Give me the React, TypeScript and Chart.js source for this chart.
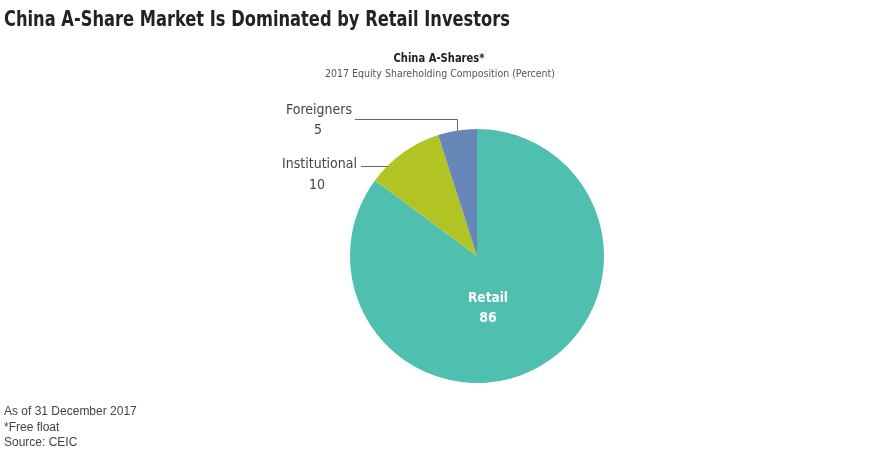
import React, { useEffect, useRef } from "react";
import { Chart, registerables } from "chart.js";

Chart.register(...registerables);

const categories = ["Retail", "Institutional", "Foreigners"];
const values = [86, 10, 5];
const colors = ["#4FBFAF", "#B2C424", "#6887B9"];
const mainTitle = "China A-Share Market Is Dominated by Retail Investors";
const chartTitle = "China A-Shares*";
const chartSubtitle = "2017 Equity Shareholding Composition (Percent)";
const footnotes = ["As of 31 December 2017", "*Free float", "Source: CEIC"];

const FONT = "'DejaVu Sans Condensed', 'DejaVu Sans', sans-serif";
const NOTE_FONT = "'Liberation Sans', Arial, sans-serif";

const textPlugin = {
  id: "texts",
  afterDraw(chart: any) {
    const ctx = chart.ctx as CanvasRenderingContext2D;
    const area = chart.chartArea;
    const cx = (area.left + area.right) / 2;
    const cy = (area.top + area.bottom) / 2;
    const r = Math.min(area.right - area.left, area.bottom - area.top) / 2;
    ctx.save();
    // main title
    ctx.fillStyle = "#222";
    ctx.textBaseline = "alphabetic";
    ctx.textAlign = "left";
    ctx.font = `bold 21px ${FONT}`;
    ctx.fillText(mainTitle, 4, 26, 506);
    // chart title/subtitle
    ctx.textAlign = "center";
    ctx.font = `bold 13px ${FONT}`;
    ctx.fillStyle = "#222";
    ctx.fillText(chartTitle, 439, 62, 91);
    ctx.font = `11px ${FONT}`;
    ctx.fillStyle = "#555";
    ctx.fillText(chartSubtitle, 440, 77, 230);
    // footnotes
    ctx.textAlign = "left";
    ctx.font = `12px ${NOTE_FONT}`;
    ctx.fillStyle = "#444";
    footnotes.forEach((t, i) => ctx.fillText(t, 4, 415 + i * 15.5, 134 - (i === 0 ? 0 : 0)));

    // arcs
    const meta = chart.getDatasetMeta(0);
    // Foreigners callout (index 2)
    const fArc = meta.data[2];
    const fMid = (fArc.startAngle + fArc.endAngle) / 2;
    const fx = cx + Math.cos(fMid) * r;
    const fy = cy + Math.sin(fMid) * r;
    ctx.strokeStyle = "#666";
    ctx.lineWidth = 1;
    ctx.beginPath();
    ctx.moveTo(355, 119.5);
    ctx.lineTo(Math.round(fx) + 0.5, 119.5);
    ctx.lineTo(Math.round(fx) + 0.5, fy);
    ctx.stroke();
    // Institutional callout
    const iy = 166.5;
    const ix = cx - Math.sqrt(r * r - (cy - iy) * (cy - iy));
    ctx.beginPath();
    ctx.moveTo(361, iy);
    ctx.lineTo(ix + 1, iy);
    ctx.stroke();

    ctx.font = `14px ${FONT}`;
    ctx.fillStyle = "#444";
    ctx.textAlign = "right";
    ctx.fillText(categories[2], 352, 114);
    ctx.fillText(categories[1], 357, 168, 79);
    ctx.textAlign = "center";
    ctx.fillText(String(values[2]), 318, 134);
    ctx.fillText(String(values[1]), 317, 189);

    // Retail label
    ctx.font = `bold 14px ${FONT}`;
    ctx.fillStyle = "#fff";
    ctx.fillText(categories[0], 488, 302, 40);
    ctx.fillText(String(values[0]), 488, 322);
    ctx.restore();
  },
};

export default function App() {
  const ref = useRef<HTMLCanvasElement>(null);
  useEffect(() => {
    document.body.style.margin = "0";
    const chart = new Chart(ref.current!, {
      type: "pie",
      data: {
        labels: categories,
        datasets: [
          {
            data: values,
            backgroundColor: colors,
            borderWidth: 0,
          },
        ],
      },
      options: {
        animation: false,
        responsive: false,
        layout: { padding: { top: 129, bottom: 67, left: 350, right: 276 } },
        plugins: {
          legend: { display: false },
          tooltip: { enabled: false },
          title: { display: false },
        },
      },
      plugins: [textPlugin],
    });
    return () => chart.destroy();
  }, []);
  return (
    <div style={{ width: 880, height: 450, background: "#fff" }}>
      <canvas ref={ref} width={880} height={450} />
    </div>
  );
}
